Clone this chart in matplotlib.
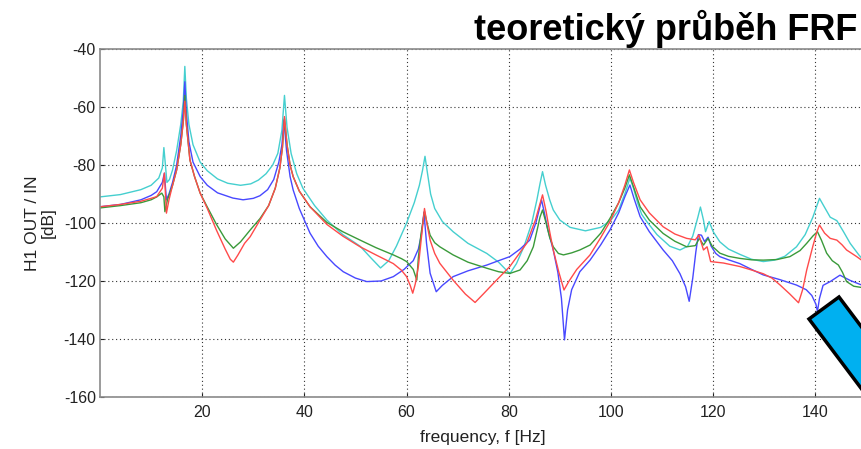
import matplotlib
matplotlib.use("Agg")
import matplotlib.pyplot as plt
from matplotlib.patches import Polygon

plt.rcParams['font.family'] = ['Liberation Sans', 'DejaVu Sans']
plt.rcParams['axes.unicode_minus'] = False

# values (frequency in Hz, magnitude in dB)
f_cyan = [0, 4, 8, 10, 11.5, 12.2, 12.5, 12.8, 13.1, 13.6, 14.2, 15.0, 15.8, 16.3, 16.6, 16.9, 17.4, 18.2,
          19.6, 21, 23, 25, 27.5, 29.5, 31, 32.5, 33.8, 34.8, 35.6, 36.1, 36.6, 37.4, 38.5, 39.7, 42, 44.4,
          47.5, 50.9, 53, 54.9, 56.5, 58, 60, 61.5, 62.5, 63.1, 63.6, 64.1, 64.7, 65.5, 67, 69.1, 72, 75.7,
          78, 80.2, 81.5, 83, 84.5, 85.5, 86.1, 86.6, 87.2, 88, 88.7, 90, 92, 95, 98, 100, 101.5, 102.7,
          103.7, 104.4, 105.2, 106, 107, 109, 111.5, 113.5, 115, 116, 117, 117.5, 118.1, 118.5, 119.2, 120,
          121.3, 123, 125.2, 127.5, 129.8, 132, 134, 136.3, 138, 139.5, 140.3, 140.8, 141.6, 142.9, 144.2,
          145.5, 146.8, 148.5, 150]
db_cyan = [-91, -90.2, -88.5, -87, -84.5, -81, -74, -80, -86, -85, -81.7, -75, -66, -58, -46, -57, -66, -73,
           -79, -82, -84.8, -86.3, -87, -86.5, -85.2, -83, -80, -76, -68, -56, -67, -76, -83, -88, -94, -99,
           -104, -108, -112, -115.5, -113, -108, -100, -93, -87, -82, -77, -83, -90, -95, -99.5, -103, -107, -110.5,
           -113.5, -117.5, -114, -108, -100, -92, -86.5, -82.3, -87, -92, -95.5, -99, -101.5, -102.7, -101.5, -99, -95.5, -90,
           -84.5, -88, -93, -97, -99.5, -104, -108, -109.3, -108, -104.5, -98, -94.5, -99, -103, -99.5, -103,
           -106.5, -109, -110.8, -112.5, -113.3, -112.8, -111.5, -108.2, -104, -98, -94, -91.5, -94, -98, -99.2,
           -103, -107, -111, -114]

f_blue = [0, 4, 8, 10, 11.1, 12.2, 12.6, 13.0, 13.5, 14.2, 15.0, 15.8, 16.3, 16.6, 16.9, 17.4, 18.2, 19.6,
          21, 23, 26, 28, 30, 31.3, 32.8, 34, 35, 35.6, 36.0, 36.5, 37.2, 37.8, 39, 41.1, 42.7, 44.4, 46,
          47.6, 50, 52.2, 55, 57.4, 59.5, 61.3, 62.3, 62.9, 63.4, 63.9, 64.6, 65.8, 67, 69.1, 72, 75.7, 78,
          80.2, 82.2, 84.1, 85.3, 86.0, 86.4, 86.9, 87.6, 88.7, 89.6, 90.3, 90.9, 91.5, 92.3, 93.9, 95.9, 98,
          99.8, 101.5, 102.7, 103.7, 104.5, 105.7, 107.5, 110.2, 112, 113.5, 114.6, 115.3, 116, 116.6, 117.1,
          117.7, 118.3, 119, 119.6, 120.5, 121.3, 123, 125.2, 127.5, 129.8, 133, 136.3, 138.2, 139.3, 140.1,
          140.4, 140.8, 141.5, 142.9, 144.8, 146.8, 148.5, 150]
db_blue = [-94.4, -93.6, -92, -90.5, -89.2, -86, -82.8, -92, -90, -86, -80, -70, -61, -51.3, -62, -72, -79, -84,
           -87, -89.6, -91.4, -92, -91.5, -90.6, -88.5, -85, -79, -73, -64.5, -75, -84, -88.6, -95, -103.5, -108, -111.6, -114.5,
           -116.8, -119, -120.2, -120, -118.5, -116, -113, -109, -104, -96.3, -107, -117.3, -123.7, -121.5, -118.5, -116.5, -114.5, -113,
           -111.6, -109, -105.9, -100, -95, -92, -96, -102, -109.3, -117, -126, -140.3, -130, -123, -116.8, -112.8, -107.5,
           -102.4, -96.5, -91, -86.9, -91.5, -97.8, -103, -109.3, -113, -117.5, -122, -127, -119, -110, -104,
           -104.2, -106.4, -104.9, -108, -110.5, -111.6, -112.7, -114, -116, -117.9, -119.5, -121.4, -123, -125, -128,
           -130.5, -126, -121.5, -120.2, -118, -119.8, -121, -122]

f_red = [0, 4, 8, 10, 11.1, 12.2, 12.6, 13.0, 13.5, 14.2, 15.0, 15.8, 16.3, 16.6, 16.9, 17.6, 18.5, 19.6,
         21, 22.8, 24.5, 25.5, 26.1, 27, 28.3, 29.4, 31.3, 33, 34.3, 35.2, 35.7, 36.1, 36.6, 37.2, 37.8, 39,
         41.1, 44.4, 47.5, 50.9, 54, 57.4, 59, 60, 60.7, 61.2, 61.7, 62.3, 62.9, 63.5, 64.0, 64.6, 65.5, 66.5,
         69.1, 71.5, 73.4, 75, 77, 80.2, 83.5, 85.2, 86.0, 86.6, 87.3, 88, 88.7, 89.8, 90.8, 91.8, 93.3, 95.9,
         98, 99.8, 101.5, 102.7, 103.6, 104.4, 105.7, 107.5, 110.2, 112.5, 114.8, 116.5, 117.2, 117.7, 118.1,
         118.8, 119.5, 122, 125.2, 127.5, 129.8, 131.5, 133.1, 135, 136.7, 137.5, 138.3, 139.5, 140.3, 140.8,
         141.8, 142.9, 144.2, 145.2, 146.1, 148, 150]
db_red = [-94.4, -93.6, -92.5, -91.5, -90.9, -88, -82.8, -96.6, -92, -87, -81.7, -73, -65, -58, -66, -78.3, -84, -89.7,
          -95, -102.5, -109, -112.5, -113.5, -111, -107, -104.7, -99, -94, -88, -81, -74, -63.3, -73, -80, -84, -89,
          -94.4, -100.5, -104.5, -108.2, -111, -114, -116.3, -118.5, -121.5, -124.2, -121, -115, -105, -95, -100.5, -105.9, -110.5, -113.9,
          -119.7, -124.5, -127.4, -124.5, -120.8, -115, -107, -99, -94, -90.3, -96, -103, -109.3, -117, -123.1, -120, -116, -111,
          -105, -99.5, -93, -87, -81.7, -86, -92, -96.5, -101.3, -103.8, -105.3, -105.8, -104.1, -107, -109.3,
          -108.2, -113.3, -113.8, -115, -116.2, -117.5, -119, -121.4, -124.5, -127.5, -123, -116.2, -108, -103, -100.7,
          -103.5, -105.3, -105.9, -107.5, -109.3, -111.5, -114]

f_green = [0, 4, 8, 10, 11.1, 12.1, 12.5, 12.7, 13.2, 14.2, 15.0, 15.8, 16.3, 16.6, 16.9, 17.6, 18.5, 19.6,
           21, 22.8, 24.5, 26.1, 27.5, 29.4, 31.3, 33, 34.3, 35.2, 35.7, 36.1, 36.6, 37.2, 37.8, 39, 41.1, 44.4,
           47.5, 50.9, 54, 57.4, 59, 60, 61.3, 62.0, 62.3, 62.8, 63.5, 64.0, 64.6, 65.5, 66.5, 69.1, 72, 75.7,
           78, 80.2, 82.2, 83.6, 84.8, 85.6, 86.1, 86.6, 87.3, 88, 88.7, 89.7, 90.7, 92.3, 93.9, 95.9, 98, 99.8,
           101.5, 102.7, 103.6, 104.4, 105.7, 107.5, 110.2, 112.5, 114.8, 116.5, 117.3, 118.1, 119, 119.8, 121.3,
           123, 125.2, 127.5, 129.8, 132.5, 135, 137, 138.3, 139.5, 140.4, 141.2, 142.2, 143.3, 144.5, 145.3,
           146.1, 147.5, 150]
db_green = [-94.8, -94, -93, -92, -91, -89.7, -91, -96.1, -92, -87, -81.7, -73, -65, -56, -66, -78.3, -84, -89.7,
            -94.5, -100.5, -105.5, -108.7, -106.5, -102.4, -98.5, -94, -88, -81, -74, -64, -73, -80, -84, -89, -94.4, -99.8,
            -103, -105.9, -108.5, -111, -112.3, -113.3, -116, -119.7, -112, -104, -96, -100, -104.2, -106.8, -108.2, -111, -113.5, -115.6,
            -116.8, -117.4, -116.2, -113, -108.2, -102, -98, -95.5, -100, -105, -108.2, -110.5, -111, -110.3, -109.3, -107.6, -103.5, -98.4,
            -93, -88, -83.4, -87.5, -94.4, -99, -103.6, -106.3, -108.2, -107.8, -105.3, -107.6, -105.3, -108, -110.4,
            -111.5, -112.2, -112.7, -112.8, -112.6, -111.6, -109.5, -107, -104.5, -103, -106, -110.4, -113, -114.5, -117,
            -120.2, -121.8, -122.5]

xticks = [20, 40, 60, 80, 100, 120, 140]
yticks = [-160, -140, -120, -100, -80, -60, -40]

fig = plt.figure(figsize=(8.62, 4.49), dpi=100)
ax = fig.add_axes([100/862, 52/449, 766.5/862, 348/449])

ax.plot(f_cyan, db_cyan, color='#45cfcf', lw=1.0)
ax.plot(f_blue, db_blue, color='#4848ff', lw=1.0)
ax.plot(f_green, db_green, color='#3a9a3a', lw=1.0)
ax.plot(f_red, db_red, color='#ff4a4a', lw=1.0)

ax.set_xlim(0, 150)
ax.set_ylim(-160, -40)
ax.set_xticks(xticks)
ax.set_yticks(yticks)
ax.grid(True, color='#333333', linestyle=(0, (1, 2.5)), linewidth=0.8)
ax.tick_params(direction='in', length=3, labelsize=11.5, colors='#222222')
ax.tick_params(axis='x', pad=6)
ax.tick_params(axis='y', pad=3)
for s in ax.spines.values():
    s.set_color('#8a8a8a')
    s.set_linewidth(1.2)

ax.set_xlabel('frequency, f [Hz]', fontsize=12.5, color='#222222', labelpad=7)
ax.set_ylabel('H1 OUT / IN\n[dB]', fontsize=12.5, color='#222222', labelpad=6, linespacing=1.0)

fig.text(0.995, 1 - 40/449, 'teoretický průběh FRF', ha='right', va='baseline',
         fontsize=26, fontweight='bold', color='black')

# blue arrow shaft cut by the right edge
pts = [(809, 319), (839, 297), (939, 430), (909, 452)]
arrow = Polygon([(x/862, 1 - y/449) for x, y in pts], closed=True, transform=fig.transFigure,
                facecolor='#00b0f0', edgecolor='black', linewidth=2.5, joinstyle='miter')
fig.patches.append(arrow)

fig.savefig('out.png', dpi=100)
